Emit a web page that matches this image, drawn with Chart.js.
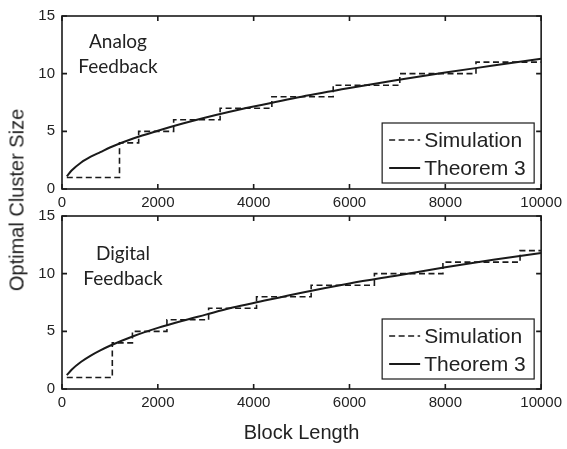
<!DOCTYPE html>
<html>
<head>
<meta charset="utf-8">
<script src="https://cdn.jsdelivr.net/npm/chart.js@4.4.1/dist/chart.umd.min.js"></script>
<style>
  html, body { margin: 0; padding: 0; background: #fff; }
  #page { position: relative; width: 567px; height: 449px; overflow: hidden; }
  .panel { position: absolute; left: 0; width: 567px; }
  #ylabel {
    position: absolute; left: 17px; top: 200px;
    transform: translate(-50%, -50%) rotate(-90deg);
    font: 20px "Liberation Sans", Arial, sans-serif; color: #222; white-space: nowrap;
  }
</style>
</head>
<body>
<div id="page">
  <div class="panel" style="top:0;height:215px"><canvas id="analogChart"></canvas></div>
  <div class="panel" style="top:200px;height:249px"><canvas id="digitalChart"></canvas></div>
  <div id="ylabel">Optimal Cluster Size</div>
</div>
<script>
// axis ticks
const blockTicks = [0, 2000, 4000, 6000, 8000, 10000];
const sizeTicks = [0, 5, 10, 15];

// analog feedback: simulation steps (start of each level) and theorem 3 curve
const analogStepX = [100, 1200, 1600, 2330, 3300, 4380, 5660, 7050, 8640, 10000];
const analogStepY = [1, 4, 5, 6, 7, 8, 9, 10, 11, 11];
const analogCurveX = [100, 200, 400, 600, 800, 1000, 1500, 2000, 2500, 3000, 3500, 4000, 5000, 6000, 7000, 8000, 9000, 10000];
const analogCurveY = [1.1, 1.6, 2.3, 2.8, 3.2, 3.6, 4.4, 5.05, 5.65, 6.2, 6.7, 7.15, 8.0, 8.75, 9.45, 10.1, 10.7, 11.3];

// digital feedback
const digitalStepX = [100, 1050, 1470, 2190, 3060, 4060, 5200, 6520, 7950, 9560, 10000];
const digitalStepY = [1, 4, 5, 6, 7, 8, 9, 10, 11, 12, 12];
const digitalCurveX = [100, 200, 400, 600, 800, 1000, 1500, 2000, 2500, 3000, 3500, 4000, 5000, 6000, 7000, 8000, 9000, 10000];
const digitalCurveY = [1.2, 1.67, 2.36, 2.9, 3.35, 3.75, 4.6, 5.3, 5.9, 6.45, 7.0, 7.45, 8.35, 9.15, 9.85, 10.55, 11.2, 11.8];

const INK = '#1a1a1a';
const TEXT = '#222';
const SANS = '"Liberation Sans", Arial, sans-serif';

function toPoints(xs, ys) {
  return xs.map((x, i) => ({ x, y: ys[i] }));
}

// frame with inward ticks on all four sides
const framePlugin = {
  id: 'frame',
  afterDatasetsDraw(chart) {
    const { ctx, chartArea: a, scales } = chart;
    const len = 5;
    ctx.save();
    ctx.strokeStyle = INK;
    ctx.lineWidth = 1.6;
    ctx.strokeRect(a.left, a.top, a.right - a.left, a.bottom - a.top);
    ctx.beginPath();
    blockTicks.forEach((v) => {
      const px = scales.x.getPixelForValue(v);
      ctx.moveTo(px, a.bottom); ctx.lineTo(px, a.bottom - len);
      ctx.moveTo(px, a.top); ctx.lineTo(px, a.top + len);
    });
    sizeTicks.forEach((v) => {
      const py = scales.y.getPixelForValue(v);
      ctx.moveTo(a.left, py); ctx.lineTo(a.left + len, py);
      ctx.moveTo(a.right, py); ctx.lineTo(a.right - len, py);
    });
    ctx.stroke();
    ctx.restore();
  },
};

// boxed legend in the lower right corner
const boxLegendPlugin = {
  id: 'boxLegend',
  afterDatasetsDraw(chart, args, opts) {
    const { ctx, chartArea: a } = chart;
    const w = 152;
    const h = 60;
    const right = a.right - 7;
    const bottom = a.bottom - opts.gap;
    const left = right - w;
    const top = bottom - h;
    ctx.save();
    ctx.fillStyle = '#fff';
    ctx.fillRect(left, top, w, h);
    ctx.strokeStyle = INK;
    ctx.lineWidth = 1.2;
    ctx.strokeRect(left, top, w, h);
    ctx.font = '21px ' + SANS;
    ctx.textBaseline = 'middle';
    ctx.fillStyle = TEXT;
    chart.data.datasets.forEach((ds, i) => {
      const y = top + 17 + i * 28;
      ctx.beginPath();
      ctx.setLineDash(ds.borderDash || []);
      ctx.lineWidth = ds.borderWidth;
      ctx.strokeStyle = ds.borderColor;
      ctx.moveTo(left + 7, y);
      ctx.lineTo(left + 38, y);
      ctx.stroke();
      ctx.setLineDash([]);
      ctx.fillText(ds.label, left + 42, y + 1);
    });
    ctx.restore();
  },
};

// panel caption, two centred lines
const captionPlugin = {
  id: 'caption',
  afterDatasetsDraw(chart, args, opts) {
    const { ctx, chartArea: a } = chart;
    ctx.save();
    ctx.font = '19px Lato, "Open Sans", sans-serif';
    ctx.fillStyle = TEXT;
    ctx.textAlign = 'center';
    ctx.textBaseline = 'middle';
    opts.lines.forEach((line, i) => {
      ctx.fillText(line, opts.cx, a.top + opts.dy + i * 25);
    });
    ctx.restore();
  },
};

function makeChart(canvasId, stepX, stepY, curveX, curveY, cfg) {
  return new Chart(document.getElementById(canvasId), {
    type: 'line',
    data: {
      datasets: [
        {
          label: 'Simulation',
          data: toPoints(stepX, stepY),
          stepped: 'before',
          borderColor: INK,
          borderWidth: 1.6,
          borderDash: [6, 3.5],
          pointRadius: 0,
          fill: false,
        },
        {
          label: 'Theorem 3',
          data: toPoints(curveX, curveY),
          borderColor: INK,
          borderWidth: 2,
          cubicInterpolationMode: 'monotone',
          pointRadius: 0,
          fill: false,
        },
      ],
    },
    options: {
      responsive: true,
      maintainAspectRatio: false,
      animation: false,
      events: [],
      layout: { padding: { left: 0, right: 24, top: 12, bottom: 0 } },
      plugins: {
        legend: { display: false },
        tooltip: { enabled: false },
        boxLegend: { gap: cfg.legendGap },
        caption: { lines: cfg.caption, cx: cfg.captionX, dy: cfg.captionDy },
      },
      scales: {
        x: {
          type: 'linear',
          min: 0,
          max: 10000,
          afterBuildTicks: (s) => { s.ticks = blockTicks.map((v) => ({ value: v })); },
          afterFit: (s) => { s.height = cfg.xHeight; },
          grid: { display: false, drawTicks: false },
          border: { display: false },
          ticks: {
            color: TEXT,
            font: { family: SANS, size: 15 },
            padding: 5,
            maxRotation: 0,
            autoSkip: false,
            callback: (value) => String(value),
          },
          title: cfg.xTitle
            ? { display: true, text: cfg.xTitle, color: TEXT, font: { family: SANS, size: 20 }, padding: { top: 0, bottom: 4 } }
            : { display: false },
        },
        y: {
          type: 'linear',
          min: 0,
          max: 15,
          afterBuildTicks: (s) => { s.ticks = sizeTicks.map((v) => ({ value: v })); },
          afterFit: (s) => { s.width = 62; },
          grid: { display: false, drawTicks: false },
          border: { display: false },
          ticks: { color: TEXT, font: { family: SANS, size: 15 }, padding: 7, callback: (value) => String(value) },
        },
      },
    },
    plugins: [framePlugin, boxLegendPlugin, captionPlugin],
  });
}

makeChart('analogChart', analogStepX, analogStepY, analogCurveX, analogCurveY, {
  xHeight: 26,
  legendGap: 6,
  caption: ['Analog', 'Feedback'],
  captionX: 118,
  captionDy: 26,
});

makeChart('digitalChart', digitalStepX, digitalStepY, digitalCurveX, digitalCurveY, {
  xHeight: 60,
  xTitle: 'Block Length',
  legendGap: 10,
  caption: ['Digital', 'Feedback'],
  captionX: 123,
  captionDy: 38,
});
</script>
</body>
</html>
